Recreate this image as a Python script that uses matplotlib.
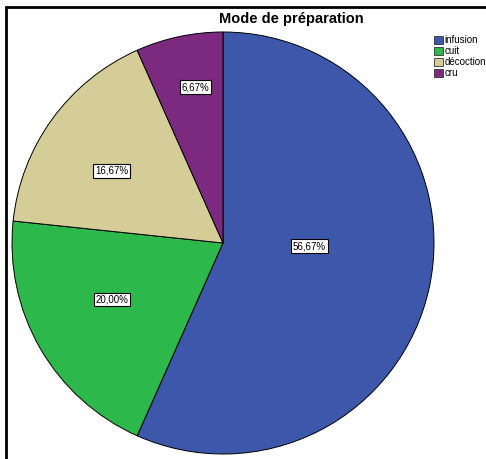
import numpy as np
import matplotlib.pyplot as plt
from matplotlib.patches import Rectangle, Patch

# data
categories = ['infusion', 'cuit', 'décoction', 'cru']
percents = [56.67, 20.00, 16.67, 6.67]
pct_labels = ['56,67%', '20,00%', '16,67%', '6,67%']
colors = ['#3D58AB', '#2DB84B', '#D4CD98', '#7B2A80']

# label placement (fraction of radius, angle shift from slice middle)
label_radius = [0.41, 0.59, 0.63, 0.75]
label_shift = [10, -3, 3, -2]

plt.rcParams['font.family'] = ['Liberation Sans', 'DejaVu Sans']

fig = plt.figure(figsize=(4.86, 4.59), dpi=100)
W, H = 486, 459

# pie axes: centre ~ (223, 243) px, radius ~211 px
cx, cy, r = 223, 243, 211
ax = fig.add_axes([(cx - r) / W, (H - cy - r) / H, 2 * r / W, 2 * r / H])
wedges, _ = ax.pie(percents, colors=colors, startangle=90, counterclock=False,
                   wedgeprops=dict(edgecolor='black', linewidth=0.7))
ax.set_aspect('auto')
ax.set_xlim(-1, 1)
ax.set_ylim(-1, 1)

for w, lab, rr, sh in zip(wedges, pct_labels, label_radius, label_shift):
    ang = np.deg2rad((w.theta1 + w.theta2) / 2 + sh)
    ax.text(rr * np.cos(ang), rr * np.sin(ang), lab, ha='center', va='center',
            fontsize=7,
            bbox=dict(boxstyle='square,pad=0.2', facecolor='white',
                      edgecolor='black', linewidth=0.8))

fig.text(291 / W, 1 - 19.5 / H, 'Mode de préparation', ha='center', va='center',
         fontsize=10.5, fontweight='bold')

handles = [Patch(facecolor=c, edgecolor='#333333', linewidth=0.6) for c in colors]
fig.legend(handles, categories, loc='upper left', bbox_to_anchor=(434 / W, 1 - 35 / H),
           frameon=False, fontsize=7, handlelength=0.9, handleheight=0.9,
           handletextpad=0.15, labelspacing=0.1, borderpad=0, borderaxespad=0)

# outer frame (cropped screenshot)
fig.patches.append(Rectangle((6 / W, -0.1), 1.2, 1 - 7 / H + 0.1,
                             transform=fig.transFigure, fill=False,
                             edgecolor='black', linewidth=2))

fig.savefig('out.png', dpi=100)
